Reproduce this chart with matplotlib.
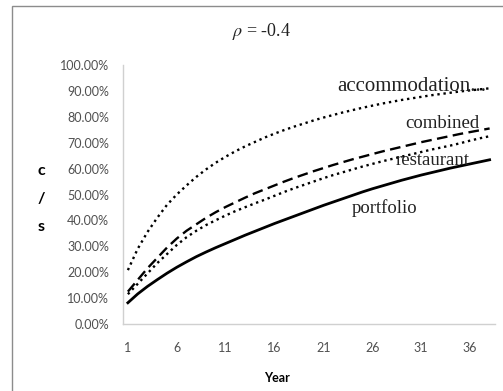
import matplotlib
matplotlib.use('Agg')
import matplotlib.pyplot as plt
from matplotlib.patches import Rectangle
from matplotlib.ticker import PercentFormatter

plt.rcParams['mathtext.fontset'] = 'stix'

years = list(range(1, 39))

accommodation = [20.8, 29.0, 35.5, 41.0, 46.0, 50.0, 53.5, 56.8, 59.7, 62.3,
                 64.6, 66.7, 68.6, 70.3, 72.0, 73.5, 74.9, 76.2, 77.4, 78.6,
                 79.7, 80.7, 81.7, 82.6, 83.5, 84.3, 85.1, 85.8, 86.5, 87.1,
                 87.7, 88.3, 88.8, 89.3, 89.8, 90.2, 90.6, 91.0]
combined = [12.5, 17.0, 21.5, 25.5, 29.5, 33.0, 36.0, 38.5, 41.0, 43.2,
            45.2, 47.0, 48.8, 50.5, 52.0, 53.5, 55.0, 56.4, 57.7, 59.0,
            60.2, 61.4, 62.5, 63.6, 64.6, 65.6, 66.6, 67.5, 68.4, 69.3,
            70.2, 71.0, 71.8, 72.6, 73.4, 74.1, 74.8, 75.5]
restaurant = [11.5, 15.5, 19.5, 23.5, 27.0, 30.5, 33.5, 36.0, 38.2, 40.1,
              41.9, 43.6, 45.1, 46.6, 48.0, 49.5, 51.0, 52.4, 53.7, 55.0,
              56.3, 57.5, 58.6, 59.7, 60.8, 61.8, 62.8, 63.7, 64.6, 65.5,
              66.4, 67.3, 68.1, 68.9, 69.8, 70.8, 71.7, 72.5]
portfolio = [8.2, 11.6, 14.5, 17.1, 19.6, 21.9, 24.0, 26.0, 27.8, 29.5,
             31.1, 32.7, 34.3, 35.8, 37.3, 38.8, 40.2, 41.6, 43.0, 44.4,
             45.8, 47.1, 48.4, 49.7, 51.0, 52.2, 53.3, 54.4, 55.5, 56.5,
             57.5, 58.4, 59.3, 60.2, 61.0, 61.8, 62.6, 63.4]

xticks = [1, 6, 11, 16, 21, 26, 31, 36]
yticks = [0, 10, 20, 30, 40, 50, 60, 70, 80, 90, 100]

fig = plt.figure(figsize=(5.03, 3.91), dpi=100)
fig.patches.append(Rectangle((12 / 503, -0.1), 1.0, 1 - 6 / 391 + 0.1,
                             transform=fig.transFigure, fill=False,
                             edgecolor='#8c8c8c', linewidth=1.0))

ax = fig.add_axes([123 / 503, 1 - 324 / 391, 371.5 / 503, 259 / 391])

dot = (0, (1, 1.6))
ax.plot(years, accommodation, color='black', lw=1.7, linestyle=dot)
ax.plot(years, restaurant, color='black', lw=1.7, linestyle=dot)
ax.plot(years, combined, color='black', lw=1.7, linestyle=(0, (4.5, 2.3)))
ax.plot(years, portfolio, color='black', lw=2.0, linestyle='-')

ax.set_xlim(0.5, 38.5)
ax.set_ylim(0, 100)
ax.set_xticks(xticks)
ax.set_yticks(yticks)
ax.yaxis.set_major_formatter(PercentFormatter(decimals=2))
ax.tick_params(length=0, labelsize=9, labelcolor='#505050', pad=10)
for lab in ax.get_xticklabels() + ax.get_yticklabels():
    lab.set_family('Lato')
ax.tick_params(axis='x', pad=13)

for side in ['top', 'right']:
    ax.spines[side].set_visible(False)
for side in ['left', 'bottom']:
    ax.spines[side].set_color('#d0d0d0')
    ax.spines[side].set_linewidth(1.0)

serif = 'Liberation Serif'
ax.text(37.7, 90.1, 'accommodation...', family=serif, fontsize=15,
        ha='right', va='baseline', color='#222222')
ax.text(37.0, 75.7, 'combined', family=serif, fontsize=13.5,
        ha='right', va='baseline', color='#222222')
ax.text(36.0, 61.4, 'restaurant', family=serif, fontsize=13.5,
        ha='right', va='baseline', color='#222222')
ax.text(30.6, 42.7, 'portfolio', family=serif, fontsize=13.5,
        ha='right', va='baseline', color='#222222')

fig.text(262 / 503, 1 - 32 / 391, r'$\rho$ = -0.4', family=serif,
         fontsize=13, ha='center', va='center', color='#222222')
fig.text(41 / 503, 1 - 199 / 391, 'c\n/\ns', family='Lato', fontsize=11.5,
         fontweight='bold', ha='center', va='center', linespacing=2.3)
fig.text(277 / 503, 1 - 378 / 391, 'Year', family='Lato', fontsize=9,
         fontweight='bold', ha='center', va='center')

fig.savefig('out.png', dpi=100)
